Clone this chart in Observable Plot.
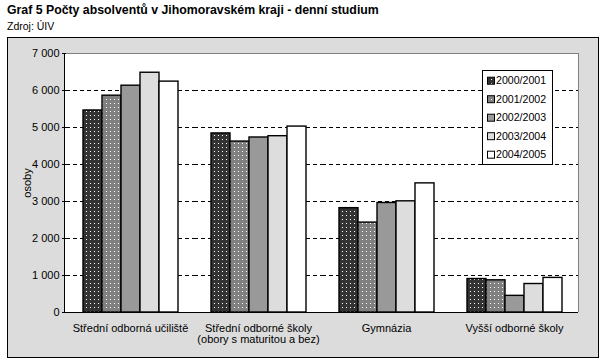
<!DOCTYPE html>
<html>
<head>
<meta charset="utf-8">
<script src="https://cdn.jsdelivr.net/npm/d3@7"></script>
<script src="https://cdn.jsdelivr.net/npm/@observablehq/plot@0.6"></script>
<style>
  html, body { margin: 0; padding: 0; background: white; }
  body { width: 601px; height: 362px; position: relative; overflow: hidden; font-family: Arial, "Liberation Sans", sans-serif; }
  #title { position: absolute; left: 7px; top: 3px; font-weight: bold; font-size: 12.3px; color: black; white-space: nowrap; }
  #source { position: absolute; left: 7px; top: 20px; font-size: 10.5px; color: black; white-space: nowrap; }
  #box { position: absolute; left: 7px; top: 37px; width: 590px; height: 319px; border: 1px solid black; background: #dcdcdc; }
  #plotbg { position: absolute; background: white; box-sizing: border-box; border-top: 1px solid #808080; border-right: 1px solid #808080; border-left: 1px solid black; }
  #chart { position: absolute; left: 0; top: 0; }
</style>
</head>
<body>
<div id="title">Graf 5 Počty absolventů v Jihomoravském kraji - denní studium</div>
<div id="source">Zdroj: ÚIV</div>
<div id="box"><div id="plotbg"></div><div id="chart"></div></div>
<script>
// ---- data ----
const categories = ["Střední odborná učiliště", "Střední odborné školy", "Gymnázia", "Vyšší odborné školy"];
const categoryLabels = ["Střední odborná učiliště", "Střední odborné školy\n(obory s maturitou a bez)", "Gymnázia", "Vyšší odborné školy"];
const years = ["2000/2001", "2001/2002", "2002/2003", "2003/2004", "2004/2005"];
const y2000 = [5460, 4840, 2820, 905];
const y2001 = [5860, 4620, 2430, 870];
const y2002 = [6130, 4730, 2960, 450];
const y2003 = [6480, 4765, 3005, 770];
const y2004 = [6240, 5025, 3490, 935];
const yTicks = [0, 1000, 2000, 3000, 4000, 5000, 6000, 7000];
const gridTicks = [1000, 2000, 3000, 4000, 5000, 6000];
const yTitle = "osoby";

const series = [y2000, y2001, y2002, y2003, y2004];
const data = [];
categories.forEach((c, i) => years.forEach((yr, j) => data.push({cat: c, year: yr, value: series[j][i]})));

const W = 590, H = 319;
const mL = 57, mT = 15, mR = 19, mB = 45;

const bg = document.getElementById("plotbg");
bg.style.left = (mL - 1) + "px";
bg.style.top = mT + "px";
bg.style.width = (W - mL - mR + 1) + "px";
bg.style.height = (H - mT - mB) + "px";

const fills = ["url(#pat0)", "url(#pat1)", "#999999", "#dddddd", "#ffffff"];

const fmt = d => d3.format(",")(d).replace(/,/g, " ");

const chart = Plot.plot({
  width: W,
  height: H,
  marginLeft: mL,
  marginTop: mT,
  marginRight: mR,
  marginBottom: mB,
  style: {background: "transparent", fontFamily: "Arial, 'Liberation Sans', sans-serif", fontSize: "11px", color: "black"},
  fx: {domain: categories, padding: 0, paddingInner: 0, paddingOuter: 0, label: null, axis: "bottom", tickSize: 0, tickPadding: 12,
       tickFormat: d => categoryLabels[categories.indexOf(d)]},
  x: {domain: years, axis: null, paddingInner: 0, paddingOuter: 0.8},
  y: {domain: [0, 7000], ticks: yTicks, tickFormat: fmt, tickSize: 4, tickPadding: 3, label: yTitle, labelAnchor: "center", labelOffset: 43, labelArrow: "none"},
  color: {type: "ordinal", domain: years, range: fills},
  marks: [
    Plot.ruleY(gridTicks, {stroke: "black", strokeWidth: 1, strokeDasharray: "4,3"}),
    Plot.barY(data, {fx: "cat", x: "year", y: "value", fill: "year", stroke: "black", strokeWidth: 1.4}),
    Plot.ruleY([0], {stroke: "black", strokeWidth: 1})
  ]
});
document.getElementById("chart").appendChild(chart);

// patterns
const svg = d3.select(chart);
const defs = svg.insert("defs", ":first-child");
const pats = [["pat0", "#333333", "#ffffff"], ["pat1", "#808080", "#ffffff"]];
pats.forEach(([id, bgc, dot]) => {
  const p = defs.append("pattern").attr("id", id).attr("patternUnits", "userSpaceOnUse").attr("width", 4).attr("height", 4);
  p.append("rect").attr("width", 4).attr("height", 4).attr("fill", bgc);
  p.append("rect").attr("x", 1).attr("y", 1).attr("width", 1).attr("height", 1).attr("fill", dot);
});

// legend
const lg = svg.append("g").attr("transform", "translate(474,32)").attr("font-size", 10.6).attr("text-anchor", "start");
lg.append("rect").attr("width", 70).attr("height", 94).attr("fill", "white").attr("stroke", "black").attr("stroke-width", 1).attr("x", 0.5).attr("y", 0.5);
years.forEach((yr, j) => {
  const cy = 10.7 + j * 18.5;
  lg.append("rect").attr("x", 5.5).attr("y", cy - 3.5).attr("width", 7).attr("height", 7).attr("fill", fills[j]).attr("stroke", "black").attr("stroke-width", 1);
  lg.append("text").attr("x", 14).attr("y", cy).attr("dy", "0.35em").attr("fill", "black").attr("text-anchor", "start").text(yr);
});
</script>
</body>
</html>
